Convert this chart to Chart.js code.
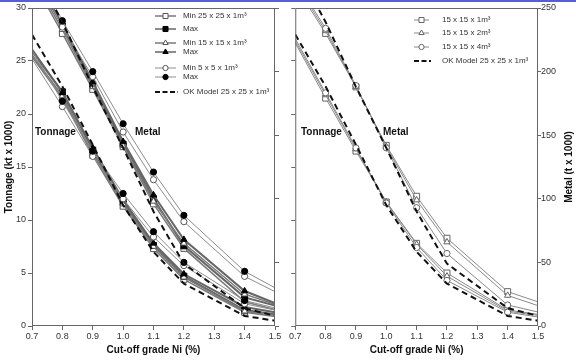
<!DOCTYPE html>
<html>
<head>
<meta charset="utf-8">
<script src="https://cdn.jsdelivr.net/npm/chart.js@4/dist/chart.umd.min.js"></script>
<style>
  body { margin: 0; background: #fff; }
  #topbar { position: absolute; left: 0; top: 0; width: 576px; height: 2px; background: #5b5bd8; }
  #left { position: absolute; left: 0; top: 0; }
  #right { position: absolute; left: 288px; top: 0; }
</style>
</head>
<body>
<div id="topbar"></div>
<canvas id="left" width="288" height="360"></canvas>
<canvas id="right" width="288" height="360"></canvas>
<script>
// cut-off grades (x) and axis ticks
const grades = [0.7, 0.8, 0.9, 1.0, 1.1, 1.2, 1.4, 1.5];
const xTicks = [0.7, 0.8, 0.9, 1.0, 1.1, 1.2, 1.3, 1.4, 1.5];
const tonTicks = [0, 5, 10, 15, 20, 25, 30];
const metTicks = [0, 50, 100, 150, 200, 250];

// left panel - tonnage (kt x 1000)
const tonMin25 = [25.4, 21.5, 16.1, 11.3, 7.3, 4.4, 1.3, 0.9];
const tonMax25 = [25.9, 22.1, 16.6, 11.7, 7.6, 4.7, 1.5, 1.1];
const tonMin15 = [25.6, 21.7, 16.3, 11.5, 7.5, 4.6, 1.4, 1.0];
const tonMax15 = [26.1, 22.0, 16.8, 11.9, 7.8, 4.9, 1.8, 1.3];
const tonMin5  = [25.2, 20.7, 16.0, 12.0, 8.4, 5.7, 2.1, 1.5];
const tonMax5  = [26.0, 21.2, 16.5, 12.5, 8.9, 6.0, 2.4, 1.7];
// left panel - metal (t x 1000)
const metMin25 = [273, 230, 186, 141, 96, 61, 19, 13];
const metMax25 = [278, 236, 190, 143, 100, 63, 22.5, 16];
const metMin15 = [275, 233, 188, 142, 98, 65, 25, 17];
const metMax15 = [280, 237, 192, 145, 103, 68, 27.5, 18];
const metMin5  = [282, 235, 196, 152.5, 115, 82, 39, 27];
const metMax5  = [285, 240, 200, 159, 121, 87, 43, 30];

// OK model 25 x 25 x 1m3 (both panels)
const okTon = [27.5, 22.6, 17.1, 11.4, 7.0, 4.0, 0.95, 0.5];
const okMet = [283, 239, 188, 140, 90, 49, 14, 8];

// right panel - 15 x 15 blocks with 1, 2, 4 m height
const ton1m = [26.7, 21.5, 16.5, 11.7, 7.8, 5.0, 1.5, 1.1];
const ton2m = [26.9, 21.8, 16.7, 11.7, 7.7, 4.7, 1.4, 1.0];
const ton4m = [27.1, 22.0, 16.8, 11.6, 7.4, 4.3, 1.3, 0.85];
const met1m = [268, 230, 188, 142, 102, 69, 27, 19];
const met2m = [270, 232, 188, 141, 99, 66, 24, 16];
const met4m = [272, 234, 189, 140, 93, 57, 16.5, 11];

const leftNames = ['Min 25 x 25 x 1m³', 'Max', 'Min 15 x 15 x 1m³', 'Max', 'Min 5 x 5 x 1m³', 'Max', 'OK Model 25 x 25 x 1m³'];
const rightNames = ['15 x 15 x 1m³', '15 x 15 x 2m³', '15 x 15 x 4m³', 'OK Model 25 x 25 x 1m³'];

Chart.defaults.font.family = "'Liberation Sans', Arial, sans-serif";
Chart.defaults.color = '#333';

// line styles
const stOK    = { borderColor: '#111', borderWidth: 2, borderDash: [6, 4], pointStyle: false, r: 0 };
const stMin25 = { borderColor: '#7a7a7a', borderWidth: 1.5, pointStyle: 'rect', r: 4.2, pointBackgroundColor: '#fff', pointBorderColor: '#555' };
const stMax25 = { borderColor: '#666', borderWidth: 2, pointStyle: 'rect', r: 4.2, pointBackgroundColor: '#000', pointBorderColor: '#000' };
const stMin15 = { borderColor: '#7a7a7a', borderWidth: 1.5, pointStyle: 'triangle', r: 3.6, pointBackgroundColor: '#fff', pointBorderColor: '#555' };
const stMax15 = { borderColor: '#666', borderWidth: 2, pointStyle: 'triangle', r: 3.6, pointBackgroundColor: '#000', pointBorderColor: '#000' };
const stMin5  = { borderColor: '#8c8c8c', borderWidth: 1, pointStyle: 'circle', r: 3.1, pointBackgroundColor: '#fff', pointBorderColor: '#555' };
const stMax5  = { borderColor: '#8c8c8c', borderWidth: 1, pointStyle: 'circle', r: 3.1, pointBackgroundColor: '#000', pointBorderColor: '#000' };
const st1m = { borderColor: '#8a8a8a', borderWidth: 1, pointStyle: 'rect', r: 4.2, pointBackgroundColor: '#fff', pointBorderColor: '#666' };
const st2m = { borderColor: '#8a8a8a', borderWidth: 1, pointStyle: 'triangle', r: 3.6, pointBackgroundColor: '#fff', pointBorderColor: '#666' };
const st4m = { borderColor: '#8a8a8a', borderWidth: 1, pointStyle: 'circle', r: 3.1, pointBackgroundColor: '#fff', pointBorderColor: '#666' };

function series(label, vals, axis, st) {
    return {
        label: label,
        data: grades.map((g, i) => ({ x: g, y: vals[i] })),
        yAxisID: axis,
        borderColor: st.borderColor,
        borderWidth: st.borderWidth,
        borderDash: st.borderDash || [],
        pointStyle: st.pointStyle,
        pointBackgroundColor: st.pointBackgroundColor,
        pointBorderColor: st.pointBorderColor,
        pointBorderWidth: 1,
        pointRadius: ctx => (ctx.dataIndex === 0 || ctx.dataIndex === grades.length - 1) ? 0 : st.r,
        pointHoverRadius: 0,
        tension: 0,
        fill: false,
        _st: st
    };
}

// frame, legend and in-plot labels
function overlay(legend, labels, rightTitle) {
    return {
        id: 'overlay',
        afterDraw(chart) {
            const ctx = chart.ctx;
            const a = chart.chartArea;
            ctx.save();
            ctx.strokeStyle = '#666';
            ctx.lineWidth = 1;
            ctx.setLineDash([]);
            ctx.strokeRect(a.left + 0.5, a.top + 0.5, a.right - a.left - 1, a.bottom - a.top - 1);

            ctx.font = "8px 'Liberation Sans', Arial, sans-serif";
            ctx.textBaseline = 'middle';
            ctx.textAlign = 'left';
            legend.items.forEach(it => {
                const st = chart.data.datasets[it.ds]._st;
                ctx.strokeStyle = st.borderColor;
                ctx.lineWidth = Math.min(st.borderWidth, 1.5);
                if (st.borderDash) { ctx.lineWidth = 2; ctx.setLineDash([5, 2.5]); } else ctx.setLineDash([]);
                ctx.beginPath();
                ctx.moveTo(legend.x0, it.y);
                ctx.lineTo(st.borderDash ? legend.x1 + 2 : legend.x1, it.y);
                ctx.stroke();
                ctx.setLineDash([]);
                if (st.pointStyle) {
                    ctx.fillStyle = st.pointBackgroundColor;
                    ctx.strokeStyle = st.pointBorderColor;
                    ctx.lineWidth = 1;
                    Chart.helpers.drawPoint(ctx, { pointStyle: st.pointStyle, radius: st.r * 0.85, rotation: 0, borderWidth: 1 },
                        (legend.x0 + legend.x1) / 2, it.y);
                }
                ctx.fillStyle = '#333';
                ctx.fillText(it.text, legend.xt, it.y);
            });

            ctx.font = "bold 10px 'Liberation Sans', Arial, sans-serif";
            ctx.fillStyle = '#111';
            labels.forEach(l => ctx.fillText(l.text, l.x, l.y));

            if (rightTitle) {
                ctx.translate(rightTitle.x, rightTitle.y);
                ctx.rotate(-Math.PI / 2);
                ctx.textAlign = 'center';
                ctx.fillText(rightTitle.text, 0, 0);
            }
            ctx.restore();
        }
    };
}

function xAxis() {
    return {
        type: 'linear', min: 0.7, max: 1.5,
        afterBuildTicks: s => { s.ticks = xTicks.map(v => ({ value: v })); },
        afterFit: s => { s.height = 34; },
        grid: { drawOnChartArea: false, tickLength: 4, color: '#666' },
        border: { display: false },
        ticks: { font: { size: 9 }, padding: 1, maxRotation: 0, callback: v => v.toFixed(1) },
        title: { display: true, text: 'Cut-off grade Ni (%)', font: { size: 10, weight: 'bold' }, color: '#111', padding: { top: 0, bottom: 4 } }
    };
}

function yAxis(pos, max, ticks, width, showLabels, title, tickLen) {
    return {
        type: 'linear', position: pos, min: 0, max: max,
        afterBuildTicks: s => { s.ticks = ticks.map(v => ({ value: v })); },
        afterFit: s => { s.width = width; },
        grid: { drawOnChartArea: false, tickLength: tickLen || 4, color: '#666' },
        border: { display: false },
        ticks: { display: showLabels, font: { size: 9 }, padding: pos === 'right' ? 0 : 2 },
        title: title ? { display: true, text: title, font: { size: 10, weight: 'bold' }, color: '#111', padding: { top: 3, bottom: 0 } } : { display: false }
    };
}

const common = {
    responsive: false,
    animation: false,
    devicePixelRatio: 1,
    layout: { padding: { top: 8, left: 0, right: 0, bottom: 0 } },
    plugins: { legend: { display: false }, tooltip: { enabled: false } },
    elements: { line: { capBezierPoints: false } }
};

// Left panel: min/max grade-tonnage curves
new Chart(document.getElementById('left').getContext('2d'), {
    type: 'line',
    data: {
        datasets: [
            series('OK tonnage', okTon, 'y', stOK),
            series('OK metal', okMet, 'y2', stOK),
            series('Max 5 metal', metMax5, 'y2', stMax5),
            series('Min 5 metal', metMin5, 'y2', stMin5),
            series('Max 5 tonnage', tonMax5, 'y', stMax5),
            series('Min 5 tonnage', tonMin5, 'y', stMin5),
            series('Max 15 metal', metMax15, 'y2', stMax15),
            series('Min 15 metal', metMin15, 'y2', stMin15),
            series('Max 15 tonnage', tonMax15, 'y', stMax15),
            series('Min 15 tonnage', tonMin15, 'y', stMin15),
            series('Max 25 metal', metMax25, 'y2', stMax25),
            series('Min 25 metal', metMin25, 'y2', stMin25),
            series('Max 25 tonnage', tonMax25, 'y', stMax25),
            series('Min 25 tonnage', tonMin25, 'y', stMin25)
        ]
    },
    options: Object.assign({}, common, {
        scales: {
            x: xAxis(),
            y: yAxis('left', 30, tonTicks, 32, true, 'Tonnage (kt x 1000)'),
            y2: yAxis('right', 250, metTicks, 13, false, null)
        }
    }),
    plugins: [overlay(
        { x0: 155, x1: 176, xt: 183, items: [
            { ds: 13, y: 16, text: leftNames[0] },
            { ds: 12, y: 29, text: leftNames[1] },
            { ds: 9, y: 43, text: leftNames[2] },
            { ds: 8, y: 52, text: leftNames[3] },
            { ds: 5, y: 68, text: leftNames[4] },
            { ds: 4, y: 77, text: leftNames[5] },
            { ds: 0, y: 92, text: leftNames[6] }
        ] },
        [{ text: 'Tonnage', x: 35, y: 132 }, { text: 'Metal', x: 135, y: 132 }],
        null
    )]
});

// Right panel: effect of block height
new Chart(document.getElementById('right').getContext('2d'), {
    type: 'line',
    data: {
        datasets: [
            series('OK tonnage', okTon, 'y', stOK),
            series('OK metal', okMet, 'y2', stOK),
            series('4m metal', met4m, 'y2', st4m),
            series('4m tonnage', ton4m, 'y', st4m),
            series('2m metal', met2m, 'y2', st2m),
            series('2m tonnage', ton2m, 'y', st2m),
            series('1m metal', met1m, 'y2', st1m),
            series('1m tonnage', ton1m, 'y', st1m)
        ]
    },
    options: Object.assign({}, common, {
        scales: {
            x: xAxis(),
            y: yAxis('left', 30, tonTicks, 6, false, null),
            y2: yAxis('right', 250, metTicks, 38, true, null, 3)
        }
    }),
    plugins: [overlay(
        { x0: 126, x1: 141, xt: 154, items: [
            { ds: 7, y: 20, text: rightNames[0] },
            { ds: 5, y: 33, text: rightNames[1] },
            { ds: 3, y: 47, text: rightNames[2] },
            { ds: 0, y: 61, text: rightNames[3] }
        ] },
        [{ text: 'Tonnage', x: 13, y: 132 }, { text: 'Metal', x: 95, y: 132 }],
        { text: 'Metal (t x 1000)', x: 281, y: 167 }
    )]
});
</script>
</body>
</html>
